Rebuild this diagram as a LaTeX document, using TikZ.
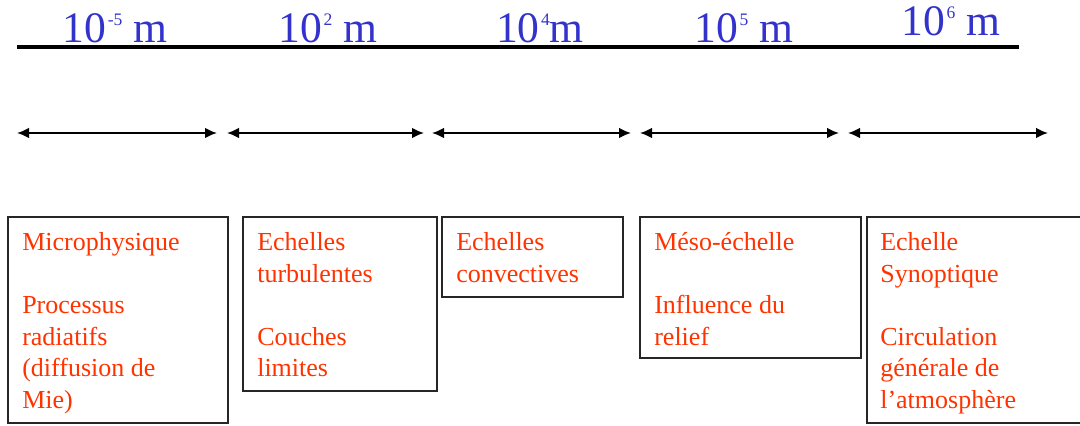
\documentclass[tikz,border=0pt]{standalone}
\usepackage{fontspec}
\setmainfont{Liberation Serif}
\usepackage{tikz}
\usetikzlibrary{arrows.meta}
\usepackage{xcolor}
\definecolor{scaleblue}{RGB}{51,51,204}
\definecolor{boxred}{RGB}{255,51,0}
\newcommand{\expo}[1]{\kern1pt\raisebox{12.3pt}{\fontsize{12.5}{12.5}\selectfont #1}}

\begin{document}
\begin{tikzpicture}[
        % define styles
        scalelbl/.style={
             text=scaleblue,
             inner sep=0pt,
             anchor=base,
             font=\fontsize{31}{36}\selectfont
        },
        spanarrow/.style={
             line width=1.4pt,
             {Latex[length=0.3cm,width=0.27cm]}-{Latex[length=0.3cm,width=0.27cm]}
        },
        boxframe/.style={
             draw=black!85,
             line width=0.9pt
        },
        boxtxt/.style={
             text=boxred,
             inner sep=0pt,
             anchor=north west,
             align=left,
             font=\fontsize{18.5}{22.4}\selectfont
        }
    ]
        \useasboundingbox (0,0) rectangle (27,10.625);
        \clip (0,0) rectangle (27,10.625);

        % Top axis with the orders of magnitude
        \coordinate (axl) at (0.425,9.45);
        \coordinate (axr) at (25.475,9.45);
        \draw[line width=2.8pt] (axl) -- (axr);
        \node[scalelbl] (s1) at (2.875,9.56)  {10\expo{-5} m};
        \node[scalelbl] (s2) at (8.2,9.56)    {10\expo{2} m};
        \node[scalelbl] (s3) at (13.5,9.56)   {10\expo{4}m};
        \node[scalelbl] (s4) at (18.6,9.56)   {10\expo{5} m};
        \node[scalelbl] (s5) at (23.775,9.74) {10\expo{6} m};

        % Ranges
        \coordinate (a1l) at (0.425,7.3);  \coordinate (a1r) at (5.425,7.3);
        \coordinate (a2l) at (5.675,7.3);  \coordinate (a2r) at (10.6,7.3);
        \coordinate (a3l) at (10.8,7.3);   \coordinate (a3r) at (15.775,7.3);
        \coordinate (a4l) at (16,7.3);     \coordinate (a4r) at (20.975,7.3);
        \coordinate (a5l) at (21.2,7.3);   \coordinate (a5r) at (26.2,7.3);
        \path[spanarrow] (a1l) edge (a1r)
        (a2l) edge (a2r)
        (a3l) edge (a3r)
        (a4l) edge (a4r)
        (a5l) edge (a5r);

        % Boxes
        \draw[boxframe] (0.2,0.05) rectangle (5.7,5.2);
        \draw[boxframe] (6.075,0.85) rectangle (10.925,5.2);
        \draw[boxframe] (11.05,3.2) rectangle (15.575,5.2);
        \draw[boxframe] (16,1.675) rectangle (21.525,5.2);
        \draw[boxframe] (21.675,0.05) rectangle (27.4,5.2);

        \node[boxtxt] (t1) at (0.55,4.815) {Microphysique\\[22.4pt]Processus\\radiatifs\\(diffusion de\\Mie)};
        \node[boxtxt] (t2) at (6.425,4.815) {Echelles\\turbulentes\\[22.4pt]Couches\\limites};
        \node[boxtxt] (t3) at (11.4,4.815) {Echelles\\convectives};
        \node[boxtxt] (t4) at (16.35,4.815) {Méso-échelle\\[22.4pt]Influence du\\relief};
        \node[boxtxt] (t5) at (22.0,4.815) {Echelle\\Synoptique\\[22.4pt]Circulation\\générale de\\l’atmosphère};
    \end{tikzpicture}
\end{document}
